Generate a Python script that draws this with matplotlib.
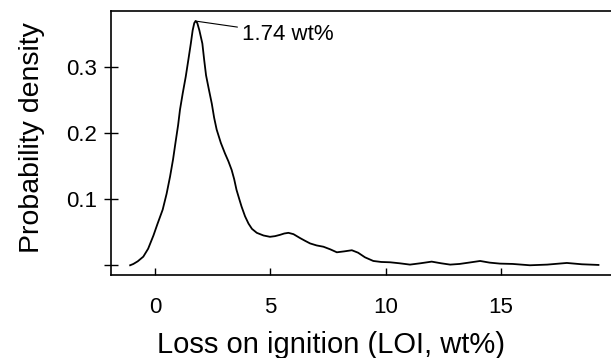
import matplotlib
matplotlib.use("Agg")
import matplotlib.pyplot as plt

plt.rcParams["font.family"] = ["Liberation Sans", "DejaVu Sans"]

# Density curve of LOI
loi = [-1.08, -0.94, -0.75, -0.51, -0.3, -0.07, 0.1, 0.33, 0.5, 0.65, 0.78,
       0.88, 1.0, 1.08, 1.2, 1.33, 1.45, 1.55, 1.63, 1.70, 1.76, 1.83, 1.92,
       2.05, 2.13, 2.21, 2.33, 2.46, 2.56, 2.67, 2.85, 3.03, 3.18, 3.32,
       3.43, 3.53, 3.65, 3.75, 3.9, 4.05, 4.2, 4.41, 4.7, 4.98, 5.2, 5.42,
       5.6, 5.78, 6.0, 6.29, 6.5, 6.72, 7.0, 7.3, 7.6, 7.88, 8.2, 8.53, 8.8,
       9.1, 9.46, 9.8, 10.19, 10.6, 11.05, 11.5, 11.99, 12.4, 12.79, 13.2,
       13.6, 14.09, 14.5, 14.95, 15.5, 16.25, 17.0, 17.85, 18.5, 19.22]
density = [0.0, 0.002, 0.006, 0.013, 0.025, 0.045, 0.062, 0.084, 0.108,
           0.134, 0.16, 0.184, 0.212, 0.235, 0.26, 0.285, 0.312, 0.335,
           0.355, 0.366, 0.369, 0.366, 0.355, 0.335, 0.31, 0.287, 0.266,
           0.244, 0.223, 0.205, 0.185, 0.169, 0.157, 0.144, 0.13, 0.114, 0.1,
           0.0886, 0.074, 0.063, 0.055, 0.049, 0.045, 0.043, 0.044, 0.046,
           0.048, 0.049, 0.047, 0.041, 0.037, 0.033, 0.030, 0.028, 0.024,
           0.0196, 0.021, 0.0227, 0.019, 0.012, 0.0065, 0.005, 0.0045, 0.003,
           0.001, 0.003, 0.0055, 0.003, 0.001, 0.002, 0.004, 0.0065, 0.004,
           0.0025, 0.002, 0.0, 0.001, 0.0035, 0.0015, 0.0005]
peak_x = 1.74
peak_y = 0.369

xticks = [0, 5, 10, 15]
yticks = [0, 0.1, 0.2, 0.3]
ytick_labels = ["", "0.1", "0.2", "0.3"]

fig = plt.figure(figsize=(6.11, 3.58), dpi=100)
ax = fig.add_axes([111 / 611, 83 / 358, 514 / 611, 264.3 / 358])

ax.plot(loi, density, color="black", lw=1.3, solid_joinstyle="round")
ax.annotate("1.74 wt%", xy=(peak_x, peak_y), xytext=(3.75, 0.349),
            fontsize=16, va="center", ha="left",
            arrowprops=dict(arrowstyle="-", lw=0.8, color="black",
                            shrinkA=1, shrinkB=0))

ax.set_xlim(-1.91, 20.37)
ax.set_ylim(-0.0147, 0.3846)
ax.set_xticks(xticks)
ax.set_xticklabels([str(t) for t in xticks])
ax.set_yticks(yticks)
ax.set_yticklabels(ytick_labels)
ax.tick_params(axis="x", direction="in", length=5, width=1, labelsize=16, pad=16)
ax.tick_params(axis="y", direction="inout", length=10, width=1, labelsize=16, pad=5)
for s in ax.spines.values():
    s.set_linewidth(1.2)

ax.set_xlabel("Loss on ignition (LOI, wt%)", fontsize=21, labelpad=9, x=0.428)
ax.set_ylabel("Probability density", fontsize=20.5, labelpad=15, y=0.52)

fig.savefig("out.png", dpi=100)
